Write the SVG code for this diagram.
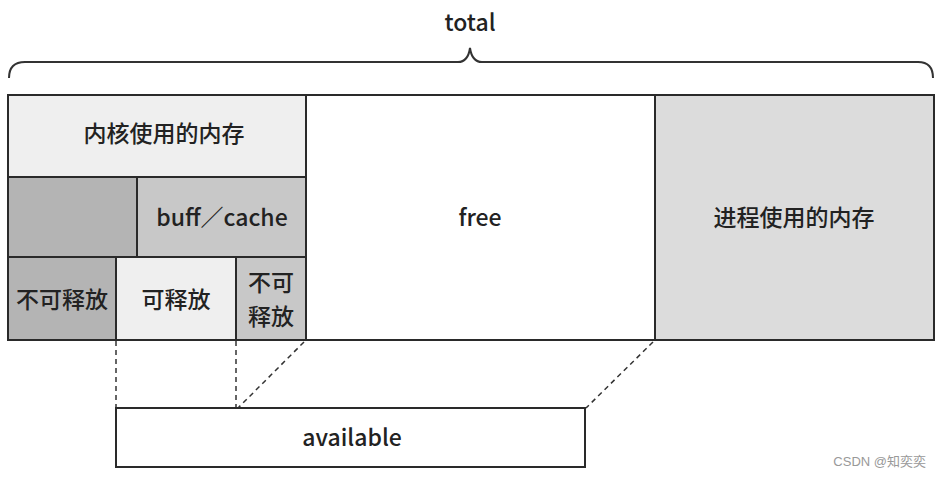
<svg xmlns="http://www.w3.org/2000/svg" width="941" height="482" viewBox="0 0 941 482">
<style>
.b{stroke:#2a2a2a;stroke-width:2}
.t{font-family:"Noto Sans CJK SC","Noto Sans",sans-serif;font-size:23px;font-weight:500;fill:#222;text-anchor:middle;dominant-baseline:central}
.d{stroke:#333;stroke-width:1.5;stroke-dasharray:5 4;fill:none}
</style>
<rect width="941" height="482" fill="#fff"/>
<g id="total">
<path d="M9,78 Q9,62 25,62 L458,62 Q468,62 470,48 Q472,62 482,62 L918,62 Q933,62 933,78" fill="none" stroke="#333" stroke-width="2"/>
<text class="t" x="470" y="21" font-size="25">total</text>
</g>
<g id="kernel"><rect class="b" x="8" y="95" width="298" height="82" fill="#efefef"/><text class="t" x="164" y="132">内核使用的内存</text></g>
<g id="blank"><rect class="b" x="8" y="177" width="129" height="80" fill="#b4b4b4"/></g>
<g id="buffcache"><rect class="b" x="137" y="177" width="169" height="80" fill="#c8c8c8"/><text class="t" x="222" y="216">buff／cache</text></g>
<g id="unfree1"><rect class="b" x="8" y="257" width="108" height="83" fill="#b4b4b4"/><text class="t" x="62" y="298">不可释放</text></g>
<g id="free-able"><rect class="b" x="116" y="257" width="120" height="83" fill="#efefef"/><text class="t" x="176" y="298">可释放</text></g>
<g id="unfree2"><rect class="b" x="236" y="257" width="70" height="83" fill="#c8c8c8"/><text class="t" x="271" y="281" font-size="20">不可</text><text class="t" x="271" y="315" font-size="20">释放</text></g>
<g id="free"><rect class="b" x="306" y="95" width="349" height="245" fill="#fff"/><text class="t" x="480" y="216">free</text></g>
<g id="process"><rect class="b" x="655" y="95" width="279" height="245" fill="#dcdcdc"/><text class="t" x="794" y="216">进程使用的内存</text></g>
<g id="connectors">
<line class="d" x1="116" y1="341" x2="116" y2="408"/>
<line class="d" x1="236" y1="341" x2="236" y2="408"/>
<line class="d" x1="304" y1="342" x2="238" y2="408"/>
<line class="d" x1="653" y1="342" x2="586" y2="408"/>
</g>
<g id="available"><rect class="b" x="116" y="408" width="469" height="59" fill="#fff"/><text class="t" x="352" y="436">available</text></g>
<text x="926" y="466" font-family="'Liberation Sans','Noto Sans CJK SC',sans-serif" font-size="13" fill="#999" text-anchor="end">CSDN @知奕奕</text>
</svg>
